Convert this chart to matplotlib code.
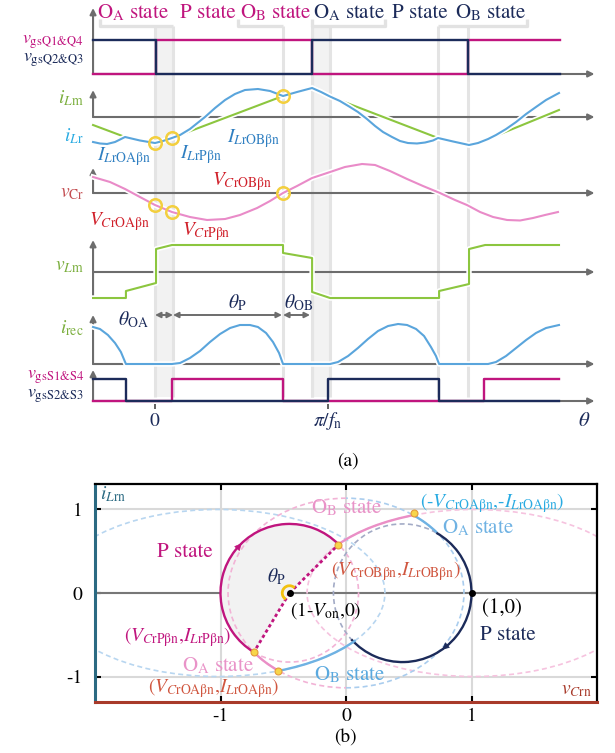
import numpy as np
import matplotlib
matplotlib.use("Agg")
import matplotlib.pyplot as plt
from matplotlib.path import Path
from matplotlib.patches import PathPatch, Rectangle
from matplotlib.transforms import Affine2D
import matplotlib.patheffects as pe

# ======================= DATA (a) : theta in units of pi/f_n =======================
theta_ticks = [0.0, 1.0]
theta_tick_labels = [r'$0$', r'$\pi/f_{\mathrm{n}}$']

oa_bands = [(0.0, 0.104), (0.908, 1.012)]
ob_bands = [(0.740, 0.908), (1.636, 1.809)]

q_edges = [-0.358, 0.006, 0.908, 1.809, 2.341]
vgs_q14 = [0, 1, 0, 1]
vgs_q23 = [1, 0, 1, 0]

s14_edges = [-0.358, 0.098, 0.740, 1.902, 2.335]
vgs_s14 = [0, 1, 0, 1]
s23_edges = [-0.358, -0.168, 1.000, 1.642, 2.335]
vgs_s23 = [1, 0, 1, 0]

th_ilr = [-0.358, -0.318, -0.277, -0.231, -0.173, -0.087, 0.0, 0.046, 0.098, 0.145,
          0.202, 0.260, 0.289, 0.347, 0.405, 0.462, 0.520, 0.595, 0.665, 0.740,
          0.821, 0.908, 0.960, 1.012, 1.069, 1.127, 1.173, 1.225, 1.272, 1.318,
          1.370, 1.416, 1.462, 1.514, 1.561, 1.607, 1.636, 1.723, 1.815, 1.867,
          1.925, 1.971, 2.029, 2.087, 2.145, 2.202, 2.260, 2.335]
ilr = [-0.893, -0.946, -0.964, -0.893, -0.714, -0.839, -0.929, -0.857, -0.75, -0.643,
       -0.429, -0.143, 0.0, 0.321, 0.607, 0.821, 0.964, 1.0, 0.929, 0.75,
       0.893, 1.036, 0.893, 0.73, 0.571, 0.357, 0.179, -0.071, -0.321, -0.536,
       -0.714, -0.857, -0.929, -0.946, -0.911, -0.839, -0.75, -0.875, -1.0, -0.929,
       -0.786, -0.643, -0.429, -0.179, 0.107, 0.357, 0.607, 0.857]

th_ilm = [-0.358, -0.173, -0.087, 0.0, 0.046, 0.098, 0.740, 0.821, 0.908, 0.960,
          1.012, 1.636, 1.723, 1.815, 1.867, 1.925, 2.335]
ilm = [-0.286, -0.714, -0.839, -0.929, -0.857, -0.75, 0.75, 0.893, 1.036, 0.893,
       0.73, -0.75, -0.875, -1.0, -0.929, -0.786, 0.25]

th_vcr = [-0.358, -0.260, -0.173, -0.087, 0.0, 0.098, 0.202, 0.301, 0.405, 0.491,
          0.590, 0.665, 0.740, 0.821, 0.908, 1.012, 1.098, 1.197, 1.272, 1.358,
          1.457, 1.549, 1.647, 1.734, 1.803, 1.879, 1.954, 2.035, 2.110, 2.185,
          2.254, 2.329]
vcr = [0.571, 0.393, 0.143, -0.143, -0.429, -0.679, -0.857, -0.964, -0.929, -0.786,
       -0.536, -0.286, 0.0, 0.25, 0.536, 0.75, 0.929, 1.036, 1.0, 0.786,
       0.5, 0.25, 0.0, -0.25, -0.429, -0.679, -0.857, -0.964, -0.982, -0.893,
       -0.786, -0.679]

th_vlm = [-0.358, -0.168, -0.168, 0.006, 0.006, 0.098, 0.740, 0.740, 0.908, 0.908,
          1.012, 1.642, 1.642, 1.815, 1.815, 1.908, 2.335]
vlm = [-0.929, -0.929, -0.679, -0.393, 0.821, 0.964, 0.964, 0.679, 0.5, -0.714,
       -0.929, -0.929, -0.679, -0.429, 0.821, 0.964, 0.964]

th_irec = [-0.358, -0.318, -0.272, -0.231, -0.197, -0.168, 0.098, 0.145, 0.202, 0.260,
           0.318, 0.376, 0.434, 0.491, 0.549, 0.595, 0.642, 0.682, 0.717, 0.740,
           1.012, 1.058, 1.116, 1.173, 1.231, 1.289, 1.347, 1.405, 1.457, 1.509,
           1.555, 1.595, 1.624, 1.642, 1.925, 1.971, 2.029, 2.087, 2.145, 2.202,
           2.260, 2.335]
irec = [0.925, 0.875, 0.725, 0.525, 0.3, 0.0, 0.0, 0.025, 0.15, 0.325,
        0.55, 0.75, 0.9, 0.975, 0.975, 0.925, 0.775, 0.55, 0.275, 0.0,
        0.0, 0.05, 0.2, 0.4, 0.625, 0.825, 0.95, 1.0, 0.975, 0.875,
        0.7, 0.425, 0.2, 0.0, 0.0, 0.05, 0.2, 0.4, 0.6, 0.775,
        0.9, 0.975]

mark_i_th = [0.0, 0.098, 0.740]
mark_i_val = [-0.93, -0.75, 0.75]
mark_v_th = [0.0, 0.098, 0.740]
mark_v_val = [-0.43, -0.68, 0.0]

theta_spans = [(0.0, 0.104), (0.104, 0.734), (0.740, 0.896)]

# ======================= DATA (b) : normalised state plane =======================
p_centers = [(-0.45, 0.0), (0.45, 0.0)]
p_rx, p_ry = 0.55, 0.827
oa_c, oa_rx, oa_ry = (0.0, 0.0), 0.94, 1.135
ob_cs = [(-1.02, 0.0), (1.02, 0.0)]
ob_rx, ob_ry = 1.33, 1.0
pt_CrP = (-0.735, -0.71)
pt_CrOA = (-0.54, -0.93)
pt_CrOB = (-0.06, 0.58)
pt_negCrOA = (0.545, 0.955)
pt_P2_start = (0.72, 0.72)
pt_P2_end = (0.045, -0.55)
pt_one = (1.0, 0.0)
b_ticks = [-1, 0, 1]

# ======================= STYLE =======================
plt.rcParams['font.family'] = ['STIXGeneral', 'DejaVu Sans']
plt.rcParams['mathtext.fontset'] = 'stix'

MAG = '#c0157e'; NAVY = '#1c2b5a'; GREEN = '#8cc63f'; GREEN_T = '#7aae3c'
BLUE = '#5aa5dc'; CYAN = '#29abe2'; PINK = '#e98bc8'; GRAY = '#6d6d6d'
YEL = '#f3cf3e'; RED = '#d0202a'; RED2 = '#d0563f'; IBLUE = '#2f7fc1'
W, H = 615, 753
FS = 14

fig = plt.figure(figsize=(W / 100, H / 100), dpi=100)


def px_axes(x0, y0, x1, y1, z=1):
    ax = fig.add_axes([x0 / W, 1 - y1 / H, (x1 - x0) / W, (y1 - y0) / H], zorder=z)
    ax.set_axis_off()
    ax.patch.set_alpha(0)
    return ax


def ftext(px, py, s, **kw):
    kw.setdefault('fontsize', FS)
    fig.text(px / W, 1 - py / H, s, **kw)


def arrow(ax, p0, p1, both=False, color=GRAY, lw=1.5, ms=9, z=3):
    ax.annotate('', xy=p1, xytext=p0, annotation_clip=False, zorder=z,
                arrowprops=dict(arrowstyle='<|-|>' if both else '-|>', color=color,
                                lw=lw, mutation_scale=ms, shrinkA=0, shrinkB=0))


XLIM = (-0.549, 2.572)
X0, X1 = -0.358, 2.54
halo = lambda lw: [pe.Stroke(linewidth=lw + 2.4, foreground='white'), pe.Normal()]

# ---------- background (bands, brackets, theta arrows) ----------
bg = px_axes(60, 0, 600, 500, z=1)
bg.set_xlim(XLIM)
bg.set_ylim(500, 0)
for a, b in oa_bands:
    bg.add_patch(Rectangle((a, 26), b - a, 371, color='#f2f2f2', lw=0))
    bg.vlines([a, b], 26, 397, colors='#e4e4e4', lw=2.2)
for a, b in ob_bands:
    bg.vlines([a, b], 26, 397, colors='#e4e4e4', lw=2.2)
BR = dict(color='#e2e2e2', lw=2.4, solid_capstyle='butt')
bg.plot([-0.318, -0.318, 0.104], [19, 26, 26], **BR)
bg.plot([0.480, 0.480, 0.740], [19, 26, 26], **BR)
bg.plot([0.908, 0.908, 1.329, 1.329], [19, 26, 26, 19], **BR)
bg.plot([1.636, 2.150, 2.150], [26, 26, 19], **BR)
for a, b in theta_spans:
    arrow(bg, (a, 315), (b, 315), both=True, lw=1.4, ms=8)

# ---------- rows ----------
def row(top, bottom, base, scale):
    ax = px_axes(60, top, 600, bottom, z=2)
    ax.set_xlim(XLIM)
    ax.set_ylim((base - bottom) / scale, (base - top) / scale)
    return ax


LW = 1.5
# row 1 : primary gate signals
ax1 = row(0, 80, 74, 34)
arrow(ax1, (X0, 0), (X1, 0))
arrow(ax1, (X0, 0), (X0, 1.94))
ax1.step(q_edges, vgs_q14 + [vgs_q14[-1]], where='post', color=MAG, lw=1.7, zorder=4, clip_on=False)
ax1.step(q_edges, vgs_q23 + [vgs_q23[-1]], where='post', color=NAVY, lw=1.7, zorder=5, clip_on=False)

# row 2 : iLm, iLr
ax2 = row(85, 155, 117, 28)
arrow(ax2, (X0, 0), (X1, 0))
arrow(ax2, (X0, 0), (X0, 0.96))
ax2.plot(th_ilm, ilm, color=GREEN, lw=LW, zorder=4, clip_on=False, path_effects=halo(LW))
ax2.plot(th_ilr, ilr, color=BLUE, lw=LW, zorder=5, clip_on=False, path_effects=halo(LW))
ax2.plot(mark_i_th, mark_i_val, 'o', mfc='none', mec=YEL, ms=9, mew=1.8, zorder=6, clip_on=False)

# row 3 : vCr
ax3 = row(160, 235, 193, 28)
arrow(ax3, (X0, 0), (X1, 0))
arrow(ax3, (X0, 0), (X0, 0.89))
ax3.plot(th_vcr, vcr, color=PINK, lw=LW, zorder=5, clip_on=False, path_effects=halo(LW))
ax3.plot(mark_v_th, mark_v_val, 'o', mfc='none', mec=YEL, ms=9, mew=1.8, zorder=6, clip_on=False)

# row 4 : vLm
ax4 = row(235, 305, 272, 28)
arrow(ax4, (X0, 0), (X1, 0))
arrow(ax4, (X0, -0.93), (X0, 1.14))
ax4.plot(th_vlm, vlm, color=GREEN, lw=LW, zorder=5, clip_on=False, path_effects=halo(LW))

# row 5 : irec
ax5 = row(310, 370, 364, 40)
arrow(ax5, (X0, 0), (X1, 0))
arrow(ax5, (X0, 0), (X0, 1.225))
ax5.plot(th_irec, irec, color=BLUE, lw=LW, zorder=5, clip_on=False, path_effects=halo(LW))

# row 6 : secondary gate signals
ax6 = row(365, 405, 401, 22)
arrow(ax6, (X0, 0), (X1, 0))
arrow(ax6, (X0, 0), (X0, 1.41))
ax6.step(s14_edges, vgs_s14 + [vgs_s14[-1]], where='post', color=MAG, lw=1.7, zorder=4, clip_on=False)
ax6.step(s23_edges, vgs_s23 + [vgs_s23[-1]], where='post', color=NAVY, lw=1.7, zorder=5, clip_on=False)
ax6.vlines(theta_ticks, -0.36, -0.14, color='#555555', lw=1.3, clip_on=False)
for t, lab in zip(theta_ticks, theta_tick_labels):
    ax6.text(t, -0.91, lab, ha='center', va='center', fontsize=FS, color=NAVY, clip_on=False)

# ---------- texts (a) ----------
ftext(97, 18, r'O$_{\mathrm{A}}$ state', color=MAG, fontsize=15, va='baseline')
ftext(180, 18, r'P state', color=MAG, fontsize=15, va='baseline')
ftext(240, 18, r'O$_{\mathrm{B}}$ state', color=MAG, fontsize=15, va='baseline')
ftext(313, 18, r'O$_{\mathrm{A}}$ state', color=NAVY, fontsize=15, va='baseline')
ftext(392, 18, r'P state', color=NAVY, fontsize=15, va='baseline')
ftext(455, 18, r'O$_{\mathrm{B}}$ state', color=NAVY, fontsize=15, va='baseline')

R = 84
FL = 13
ftext(R, 44, r'$v_{\mathrm{gsQ1}&\mathrm{Q4}}$', color=MAG, ha='right', va='baseline', fontsize=FL)
ftext(R, 62, r'$v_{\mathrm{gsQ2}&\mathrm{Q3}}$', color=NAVY, ha='right', va='baseline', fontsize=FL)
ftext(R, 103, r'$i_{L\mathrm{m}}$', color=GREEN_T, ha='right', va='baseline')
ftext(R, 141, r'$i_{L\mathrm{r}}$', color=CYAN, ha='right', va='baseline')
ftext(R, 197, r'$v_{\mathrm{Cr}}$', color='#c44e52', ha='right', va='baseline')
ftext(R, 270, r'$v_{L\mathrm{m}}$', color=GREEN_T, ha='right', va='baseline')
ftext(R, 333, r'$i_{\mathrm{rec}}$', color=GREEN_T, ha='right', va='baseline')
ftext(R, 379, r'$v_{\mathrm{gsS1}&\mathrm{S4}}$', color=MAG, ha='right', va='baseline', fontsize=FL)
ftext(R, 398, r'$v_{\mathrm{gsS2}&\mathrm{S3}}$', color=NAVY, ha='right', va='baseline', fontsize=FL)

ftext(97, 160, r'$I_{L\mathrm{rOAβn}}$', color=IBLUE, va='baseline')
ftext(180, 158, r'$I_{L\mathrm{rPβn}}$', color=IBLUE, va='baseline')
ftext(227, 142, r'$I_{L\mathrm{rOBβn}}$', color=IBLUE, va='baseline')
ftext(212, 185, r'$V_{C\mathrm{rOBβn}}$', color=RED, va='baseline')
ftext(89, 225, r'$V_{C\mathrm{rOAβn}}$', color=RED, va='baseline')
ftext(182, 235, r'$V_{C\mathrm{rPβn}}$', color=RED, va='baseline')

ftext(118, 325, r'$\theta_{\mathrm{OA}}$', color=NAVY, va='baseline')
ftext(228, 308, r'$\theta_{\mathrm{P}}$', color=NAVY, va='baseline')
ftext(284, 308, r'$\theta_{\mathrm{OB}}$', color=NAVY, va='baseline')
ftext(584, 421, r'$\theta$', color=NAVY, ha='center', va='center', fontsize=15)
ftext(348, 461, '(a)', ha='center', va='center', fontsize=14)

# ======================= (b) state plane =======================
axb = fig.add_axes([95 / W, 1 - 702 / H, (597 - 95) / W, (702 - 484) / H])
axb.set_xlim(-2.0, 2.0)
axb.set_ylim(-1.305, 1.305)
axb.set_xticks(b_ticks)
axb.set_xticklabels([str(t) for t in b_ticks])
axb.set_yticks(b_ticks)
axb.set_yticklabels([str(t) for t in b_ticks])
axb.tick_params(direction='in', length=4, width=1.5, top=True, right=True, labelsize=FS)
axb.tick_params(axis='x', pad=4)
axb.tick_params(axis='y', pad=9)
axb.grid(True, color='#d9d9d9', lw=1.5, zorder=0)
axb.set_axisbelow(True)
axb.axhline(0, color='#777777', lw=1.5, zorder=1)
for s in ('top', 'right'):
    axb.spines[s].set_color('black'); axb.spines[s].set_linewidth(1.6)
axb.spines['left'].set_color('#2b6a82'); axb.spines['left'].set_linewidth(2.2)
axb.spines['bottom'].set_color('#a83a2a'); axb.spines['bottom'].set_linewidth(2.2)


def ang(c, rx, ry, p):
    return np.degrees(np.arctan2((p[1] - c[1]) / ry, (p[0] - c[0]) / rx))


def earc(c, rx, ry, t1, t2, wedge=False, **kw):
    path = Path.wedge(t1, t2) if wedge else Path.arc(t1, t2)
    tr = Affine2D().scale(rx, ry).translate(c[0], c[1]) + axb.transData
    if not wedge:
        kw['fill'] = False
    axb.add_patch(PathPatch(path, transform=tr, **kw))


def seg(c, rx, ry, p_from, p_to, color, z=4, lw=1.7):
    # clockwise motion from p_from to p_to
    earc(c, rx, ry, ang(c, rx, ry, p_to), ang(c, rx, ry, p_from), color=color, lw=lw, zorder=z)


def head(c, rx, ry, t, color):
    a0, a1 = np.radians(t + 5), np.radians(t - 5)
    p0 = (c[0] + rx * np.cos(a0), c[1] + ry * np.sin(a0))
    p1 = (c[0] + rx * np.cos(a1), c[1] + ry * np.sin(a1))
    axb.annotate('', xy=p1, xytext=p0, zorder=6,
                 arrowprops=dict(arrowstyle='-|>', color=color, lw=0.5, mutation_scale=11,
                                 shrinkA=0, shrinkB=0))


DASH = (0, (3, 2))
c1, c2 = p_centers
a_ob = ang(c1, p_rx, p_ry, pt_CrOB)
a_p = ang(c1, p_rx, p_ry, pt_CrP)
earc(c1, p_rx, p_ry, a_ob, a_p, wedge=True, facecolor='#f2f2f2', edgecolor='none', zorder=1)

earc(ob_cs[0], ob_rx, ob_ry, 0, 360, color='#b8d6f0', lw=1.2, ls=DASH, zorder=2)
earc(ob_cs[1], ob_rx, ob_ry, 0, 360, color='#f6c3df', lw=1.2, ls=DASH, zorder=2)
earc(oa_c, oa_rx, oa_ry, 90, 270, color='#f2b3d6', lw=1.2, ls=DASH, zorder=2)
earc(oa_c, oa_rx, oa_ry, -90, 90, color='#aacdee', lw=1.2, ls=DASH, zorder=2)
earc(c1, p_rx, p_ry, a_p, a_ob, color='#f2b3d6', lw=1.2, ls=DASH, zorder=2)
a2s = ang(c2, p_rx, p_ry, pt_P2_start)
a2e = ang(c2, p_rx, p_ry, pt_P2_end)
earc(c2, p_rx, p_ry, a2s, a2e, color='#a3abc6', lw=1.2, ls=DASH, zorder=2)

seg(c1, p_rx, p_ry, pt_CrP, pt_CrOB, MAG)
seg(ob_cs[1], ob_rx, ob_ry, pt_CrOB, pt_negCrOA, '#ea8fc6')
seg(oa_c, oa_rx, oa_ry, pt_negCrOA, pt_P2_start, '#6fb2e3')
seg(c2, p_rx, p_ry, pt_P2_start, pt_P2_end, NAVY)
seg(ob_cs[0], ob_rx, ob_ry, pt_P2_end, pt_CrOA, '#6fb2e3')
seg(oa_c, oa_rx, oa_ry, pt_CrOA, pt_CrP, '#ea8fc6')
head(c1, p_rx, p_ry, 139, MAG)
head(c2, p_rx, p_ry, -50, NAVY)

for p in (pt_CrP, pt_CrOB):
    axb.plot([c1[0], p[0]], [c1[1], p[1]], color=MAG, lw=2, ls=(0, (1.2, 1.0)), zorder=5)
earc(c1, p_rx * 0.105, p_ry * 0.105, a_ob, a_p, color='#f2c10f', lw=2, zorder=6)

axb.plot([pt_CrP[0], pt_CrOA[0], pt_CrOB[0], pt_negCrOA[0]],
         [pt_CrP[1], pt_CrOA[1], pt_CrOB[1], pt_negCrOA[1]], 'o', ms=5,
         mfc='#f7d54a', mec='#e49a3c', mew=0.8, zorder=7)
axb.plot([c1[0], pt_one[0]], [c1[1], pt_one[1]], 'o', ms=4, color='black', zorder=7)

ftext(100, 494, r'$i_{L\mathrm{rn}}$', color='#2b6a82', va='center')
ftext(592, 690, r'$v_{C\mathrm{rn}}$', color='#a83a2a', ha='right', va='center')
ftext(185, 552, 'P state', color=MAG, ha='center', va='center', fontsize=15)
ftext(276, 577, r'$\theta_{\mathrm{P}}$', color=NAVY, ha='center', va='center')
ftext(290, 611, r'(1-$V_{\mathrm{on}}$,0)', color='black', va='center')
ftext(178, 637, r'($V_{C\mathrm{rPβn}}$,$I_{L\mathrm{rPβn}}$)', color=MAG, ha='center', va='center')
ftext(218, 666, r'O$_{\mathrm{A}}$ state', color='#e993c8', ha='center', va='center', fontsize=15)
ftext(214, 688, r'($V_{C\mathrm{rOAβn}}$,$I_{L\mathrm{rOAβn}}$)', color=RED2, ha='center', va='center')
ftext(350, 675, r'O$_{\mathrm{B}}$ state', color='#5aa9df', ha='center', va='center', fontsize=15)
ftext(396, 571, r'($V_{C\mathrm{rOBβn}}$,$I_{L\mathrm{rOBβn}}$)', color=RED2, ha='center', va='center')
ftext(347, 508, r'O$_{\mathrm{B}}$ state', color='#e993c8', ha='center', va='center', fontsize=15)
ftext(492, 503, r'(-$V_{C\mathrm{rOAβn}}$,-$I_{L\mathrm{rOAβn}}$)', color=CYAN, ha='center', va='center')
ftext(478, 528, r'O$_{\mathrm{A}}$ state', color='#6fb2e3', ha='center', va='center', fontsize=15)
ftext(482, 608, '(1,0)', color='black', va='center', fontsize=15)
ftext(480, 635, 'P state', color=NAVY, va='center', fontsize=15)
ftext(345, 738, '(b)', ha='center', va='center', fontsize=14)

fig.savefig('out.png', dpi=100)
